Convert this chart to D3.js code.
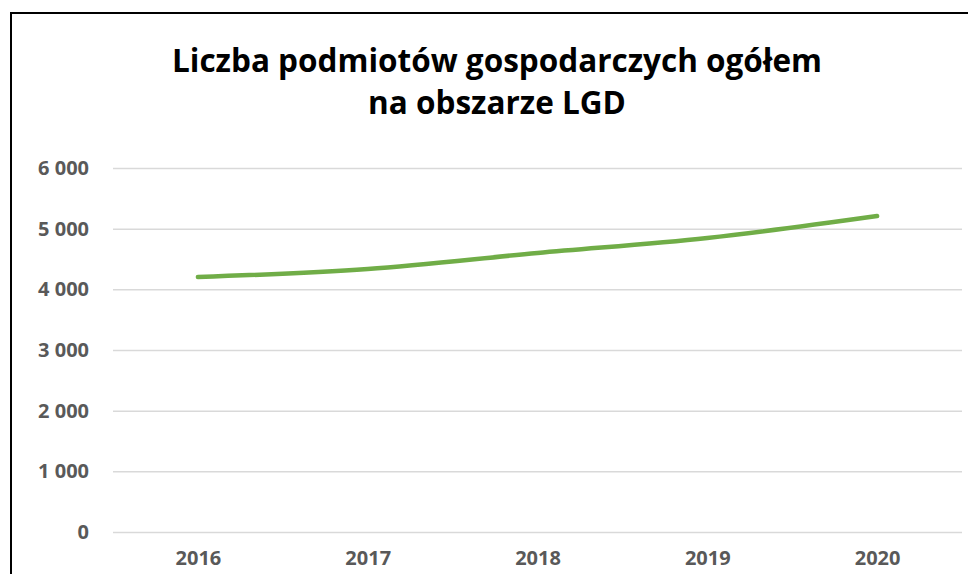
<!DOCTYPE html>
<html>
<head>
<meta charset="utf-8">
<script src="https://cdn.jsdelivr.net/npm/d3@7"></script>
<style>
  body { margin: 0; background: #fff; }
  svg { display: block; }
</style>
</head>
<body>
<div id="chart"></div>
<script>
// Data
var years = ["2016", "2017", "2018", "2019", "2020"];
var entities = [4203, 4335, 4599, 4846, 5208];
var yTicks = [0, 1000, 2000, 3000, 4000, 5000, 6000];
var titleLines = ["Liczba podmiotów gospodarczych ogółem", "na obszarze LGD"];

var svgWidth = 968;
var svgHeight = 574;
var plot = { left: 113, right: 962, top: 168, bottom: 532 };
var labelFont = "'Open Sans', 'Liberation Sans', sans-serif";

var svg = d3.select("#chart")
    .append("svg")
    .attr("width", svgWidth)
    .attr("height", svgHeight);

// frame of the chart area
svg.append("rect")
    .attr("x", 11)
    .attr("y", 13)
    .attr("width", 980)
    .attr("height", 600)
    .attr("fill", "#fff")
    .attr("stroke", "#000")
    .attr("stroke-width", 2);

// title
svg.append("text")
    .attr("x", 497)
    .attr("y", 72)
    .attr("text-anchor", "middle")
    .style("font-family", labelFont)
    .style("font-weight", "bold")
    .style("font-size", "31.5px")
    .attr("fill", "#000")
    .selectAll("tspan")
    .data(titleLines)
    .enter()
    .append("tspan")
    .attr("x", 497)
    .attr("dy", (d, i) => i === 0 ? 0 : 42)
    .text(d => d);

// scales
var xScale = d3.scalePoint()
    .domain(years)
    .range([plot.left, plot.right])
    .padding(0.5);
var yScale = d3.scaleLinear()
    .domain([0, 6000])
    .range([plot.bottom, plot.top]);

var fmt = d3.formatLocale({ decimal: ",", thousands: " ", grouping: [3], currency: ["", " zł"] }).format(",d");

// gridlines + y labels
var leftAxis = d3.axisLeft(yScale)
    .tickValues(yTicks)
    .tickSize(-(plot.right - plot.left))
    .tickPadding(24)
    .tickFormat(fmt);
var yAxis = svg.append("g")
    .attr("transform", `translate(${plot.left}, 0)`)
    .call(leftAxis);
yAxis.select(".domain").remove();
yAxis.selectAll(".tick line")
    .attr("stroke", "#d9d9d9")
    .attr("stroke-width", 1.5);
yAxis.selectAll(".tick text")
    .attr("fill", "#595959")
    .style("font-family", labelFont)
    .style("font-weight", "bold")
    .style("font-size", "20px");

// x labels
var bottomAxis = d3.axisBottom(xScale).tickSize(0).tickPadding(19);
var xAxis = svg.append("g")
    .attr("transform", `translate(0, ${plot.bottom})`)
    .call(bottomAxis);
xAxis.select(".domain").remove();
xAxis.selectAll(".tick text")
    .attr("fill", "#595959")
    .style("font-family", labelFont)
    .style("font-weight", "bold")
    .style("font-size", "20px");

// smoothed line
var line = d3.line()
    .x((d, i) => xScale(years[i]))
    .y(d => yScale(d))
    .curve(d3.curveCatmullRom.alpha(0.5));
svg.append("path")
    .datum(entities)
    .attr("d", line)
    .attr("fill", "none")
    .attr("stroke", "#70ad47")
    .attr("stroke-width", 4.5)
    .attr("stroke-linecap", "round");
</script>
</body>
</html>
